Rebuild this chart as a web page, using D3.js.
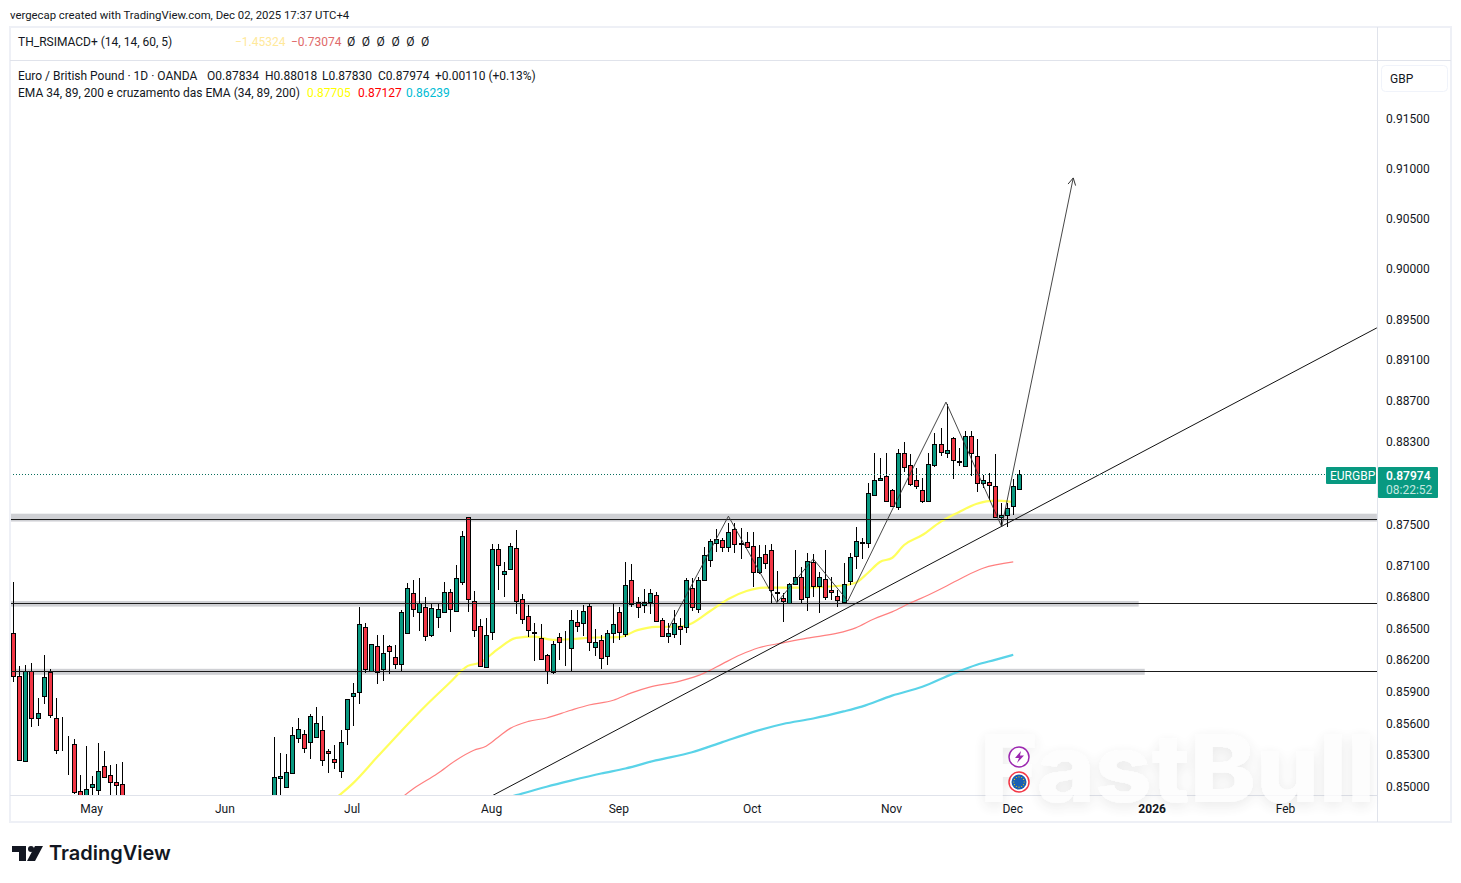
<!DOCTYPE html>
<html><head><meta charset="utf-8">
<script src="https://cdn.jsdelivr.net/npm/d3@7"></script>
<style>
html,body{margin:0;padding:0;background:#fff}
svg{display:block}
text{font-family:Roboto,sans-serif;font-size:12px;fill:#131722}
</style></head><body>
<svg id="c" width="1461" height="883"></svg>
<script>
const barIndex=[...d3.range(0,19),...d3.range(43,167)];
const opens=[0.86445,0.86033,0.85237,0.86081,0.85637,0.85852,0.86074,0.85637,0.85389,0.85351,0.85399,0.84952,0.84800,0.84987,0.84962,0.85190,0.85104,0.85038,0.85019,
0.84800,0.85072,0.84990,0.85120,0.85453,0.85485,0.85409,0.85462,0.85523,0.85332,0.85256,0.85142,0.85532,0.85846,0.85884,0.86502,0.86084,0.86321,0.86100,0.86321,0.86217,0.86150,0.86445,0.86826,0.86645,0.86692,0.86426,0.86597,0.86645,0.86836,0.86654,0.86932,0.87558,0.86749,0.86512,0.86122,0.86455,0.87248,0.87015,0.87056,0.87258,0.86768,0.86607,0.86460,0.86398,0.86236,0.86071,0.86410,0.86315,0.86302,0.86550,0.86540,0.86702,0.86312,0.86379,0.86226,0.86445,0.86645,0.86436,0.86951,0.86740,0.86711,0.86740,0.86807,0.86569,0.86417,0.86436,0.86512,0.86502,0.86874,0.86673,0.86951,0.87143,0.87306,0.87335,0.87268,0.87440,0.87309,0.87316,0.87277,0.87028,0.87200,0.87239,0.86835,0.86778,0.86737,0.86912,0.86980,0.86787,0.87130,0.86893,0.86960,0.86855,0.86804,0.86740,0.86941,0.87181,0.87315,0.87312,0.87773,0.87919,0.87958,0.87822,0.87656,0.88183,0.88066,0.87919,0.87822,0.87715,0.88066,0.88270,0.88183,0.88329,0.88100,0.88056,0.88348,0.88153,0.87890,0.87900,0.87861,0.87558,0.87578,0.87669,0.87834];
const highs=[0.86935,0.86128,0.86144,0.86160,0.85827,0.86239,0.86106,0.85827,0.85649,0.85469,0.85440,0.85107,0.85374,0.85098,0.85402,0.85326,0.85193,0.85209,0.85221,
0.85459,0.85307,0.85301,0.85551,0.85640,0.85526,0.85675,0.85745,0.85659,0.85351,0.85383,0.85526,0.85817,0.85973,0.86696,0.86543,0.86344,0.86426,0.86426,0.86334,0.86334,0.86667,0.86922,0.86954,0.86973,0.86787,0.86730,0.86730,0.86935,0.86864,0.87098,0.87424,0.87562,0.86848,0.86581,0.86591,0.87300,0.87300,0.87127,0.87309,0.87434,0.86820,0.86715,0.86543,0.86534,0.86249,0.86366,0.86445,0.86470,0.86667,0.86667,0.86715,0.86721,0.86486,0.86429,0.86477,0.86730,0.86692,0.87127,0.87104,0.86794,0.86864,0.86864,0.86836,0.86588,0.86540,0.86667,0.86588,0.86970,0.86970,0.86980,0.87274,0.87344,0.87444,0.87354,0.87498,0.87498,0.87450,0.87418,0.87412,0.87290,0.87290,0.87296,0.87040,0.86832,0.86928,0.87242,0.87082,0.87210,0.87204,0.87034,0.87242,0.86986,0.86858,0.87114,0.87210,0.87460,0.87354,0.87890,0.88176,0.88134,0.88176,0.87832,0.88215,0.88290,0.88166,0.88030,0.87939,0.88183,0.88371,0.88426,0.88654,0.88339,0.88231,0.88394,0.88394,0.88312,0.87971,0.87988,0.88173,0.87692,0.87695,0.87929,0.88018];
const lows=[0.85985,0.85234,0.85225,0.85557,0.85567,0.85773,0.85637,0.85301,0.85329,0.85101,0.84923,0.84780,0.84750,0.84800,0.84908,0.85082,0.84850,0.84850,0.84800,
0.84750,0.84917,0.84987,0.85114,0.85405,0.85310,0.85253,0.85453,0.85187,0.85120,0.85158,0.85072,0.85383,0.85564,0.85776,0.86062,0.86084,0.85966,0.85992,0.86052,0.86100,0.86084,0.86445,0.86600,0.86467,0.86375,0.86413,0.86496,0.86635,0.86458,0.86654,0.86909,0.86651,0.86413,0.86122,0.86109,0.86382,0.86858,0.86794,0.87056,0.86629,0.86531,0.86413,0.86176,0.86185,0.85966,0.86052,0.86185,0.86128,0.86081,0.86461,0.86420,0.86271,0.86230,0.86103,0.86144,0.86356,0.86382,0.86413,0.86699,0.86591,0.86635,0.86626,0.86550,0.86407,0.86350,0.86398,0.86328,0.86451,0.86657,0.86635,0.86948,0.87082,0.87220,0.87220,0.87220,0.87210,0.87152,0.87258,0.86890,0.87008,0.87056,0.86730,0.86740,0.86556,0.86730,0.86912,0.86730,0.86661,0.86794,0.86642,0.86762,0.86762,0.86699,0.86737,0.86906,0.87056,0.87152,0.87258,0.87760,0.87916,0.87702,0.87656,0.87630,0.87994,0.87864,0.87832,0.87692,0.87711,0.88043,0.88150,0.88127,0.87929,0.88056,0.88052,0.87955,0.87799,0.87841,0.87728,0.87549,0.87460,0.87466,0.87578,0.87830];
const closes=[0.86039,0.85247,0.86081,0.85637,0.85684,0.86027,0.85665,0.85342,0.85386,0.85348,0.84943,0.84828,0.84971,0.85019,0.85142,0.85085,0.85038,0.85006,0.84850,
0.85085,0.85095,0.85133,0.85475,0.85532,0.85361,0.85656,0.85589,0.85247,0.85313,0.85228,0.85409,0.85817,0.85874,0.86531,0.86100,0.86340,0.86074,0.86255,0.86274,0.86150,0.86645,0.86874,0.86673,0.86730,0.86417,0.86683,0.86673,0.86836,0.86673,0.86970,0.87373,0.86768,0.86474,0.86131,0.86426,0.87248,0.87095,0.87040,0.87277,0.86749,0.86578,0.86474,0.86450,0.86198,0.86084,0.86340,0.86360,0.86309,0.86569,0.86518,0.86654,0.86360,0.86360,0.86207,0.86445,0.86531,0.86455,0.86903,0.86721,0.86692,0.86740,0.86826,0.86559,0.86417,0.86445,0.86540,0.86483,0.86951,0.86692,0.86951,0.87191,0.87325,0.87344,0.87268,0.87412,0.87296,0.87303,0.87268,0.87028,0.87172,0.87114,0.86855,0.86825,0.86749,0.86912,0.86986,0.86768,0.87140,0.86896,0.86980,0.86787,0.86836,0.86759,0.86912,0.87172,0.87325,0.87310,0.87793,0.87919,0.87939,0.87715,0.87666,0.88183,0.88046,0.87880,0.87861,0.87715,0.88075,0.88270,0.88192,0.88212,0.88114,0.88095,0.88348,0.88183,0.87890,0.87919,0.87870,0.87558,0.87578,0.87646,0.87861,0.87974];

const ema34Index=[52,56,60,64,68,72,75,77,80,83,86,89,92,96,100,103,106,110,112,115,118,121,124,130,136,139,141,143,145,147,150,153,156,159,162,165];
const ema34Values=[0.84832,0.85022,0.85269,0.85516,0.85754,0.85973,0.86134,0.86163,0.86296,0.86401,0.86413,0.86382,0.86388,0.86404,0.86407,0.86474,0.86505,0.86508,0.86540,0.86657,0.86772,0.86848,0.86880,0.86880,0.86896,0.86928,0.87021,0.87127,0.87165,0.87290,0.87386,0.87513,0.87606,0.87688,0.87718,0.87705];
const ema89Index=[62,66,70,73,76,78,80,82,85,88,92,95,99,102,105,110,114,117,120,123,127,131,136,139,142,145,148,151,154,157,160,165];
const ema89Values=[0.84794,0.84974,0.85117,0.85240,0.85336,0.85374,0.85459,0.85542,0.85608,0.85640,0.85713,0.85763,0.85808,0.85878,0.85932,0.85989,0.86065,0.86153,0.86239,0.86306,0.86353,0.86398,0.86445,0.86496,0.86581,0.86648,0.86733,0.86810,0.86896,0.86988,0.87066,0.87127];
const ema200Index=[78,83,88,92,97,101,106,112,117,122,127,132,137,140,145,150,155,159,162,165];
const ema200Values=[0.84841,0.84914,0.84993,0.85050,0.85117,0.85164,0.85240,0.85317,0.85412,0.85507,0.85583,0.85635,0.85702,0.85748,0.85852,0.85935,0.86058,0.86144,0.86191,0.86239];

const trendIndex=[79,225];
const trendPrices=[0.84908,0.89406];
const patternIndex=[108,118,126,132,137.7,145.2,153.9,163.1,174.9];
const patternPrices=[0.86477,0.87568,0.86737,0.87156,0.86753,0.87650,0.88677,0.87466,0.90897];
const levelPrices=[0.87536,0.86737,0.86084];
const bandTop=[0.87592,0.86753,0.86106];
const bandBottom=[0.87516,0.86699,0.86049];
const bandEndIndex=[225,185.7,186.7];

const priceTicks=[0.915,0.91,0.905,0.9,0.895,0.891,0.887,0.883,0.875,0.871,0.868,0.865,0.862,0.859,0.856,0.853,0.85];
const timeTickIndex=[13,35,56,79,100,122,145,165,188,210];
const timeTickLabels=["May","Jun","Jul","Aug","Sep","Oct","Nov","Dec","2026","Feb"];
const lastPrice=0.87974;

const svg=d3.select("#c");
const x=d3.scaleLinear().domain([0,166]).range([13.3,1019.3]);
const y=d3.scaleLog().domain([0.85,0.915]).range([786,118]);
const defs=svg.append("defs");
defs.append("clipPath").attr("id","pane").append("rect").attr("x",11).attr("y",61).attr("width",1366).attr("height",734);
const f=defs.append("filter").attr("id","wm").attr("x","-10%").attr("y","-30%").attr("width","120%").attr("height","160%");
f.append("feDropShadow").attr("dx",0).attr("dy",4).attr("stdDeviation",7).attr("flood-color","#000").attr("flood-opacity",.11);

const border="#eef0f6",sep="#e0e3eb";
svg.append("rect").attr("x",10).attr("y",27).attr("width",1441).attr("height",795).attr("fill","none").attr("stroke",border).attr("stroke-width",2);
svg.append("line").attr("x1",10).attr("x2",1451).attr("y1",60.5).attr("y2",60.5).attr("stroke",sep);
svg.append("line").attr("x1",1377.5).attr("x2",1377.5).attr("y1",27).attr("y2",822).attr("stroke",sep);
svg.append("line").attr("x1",10).attr("x2",1377).attr("y1",795.5).attr("y2",795.5).attr("stroke",sep);

const pane=svg.append("g").attr("clip-path","url(#pane)");
const band=pane.append("g");
levelPrices.forEach((p,i)=>{
  band.append("rect").attr("x",10).attr("width",x(bandEndIndex[i])-10)
    .attr("y",y(bandTop[i])).attr("height",y(bandBottom[i])-y(bandTop[i])).attr("fill","#cfd0d4");
});
const line=(xs,vs)=>d3.line().curve(d3.curveMonotoneX)(xs.map((d,i)=>[x(d),y(vs[i])]));
pane.append("path").attr("d",line(ema34Index,ema34Values)).attr("fill","none").attr("stroke","#ffff5c").attr("stroke-width",2.2);
pane.append("path").attr("d",line(ema89Index,ema89Values)).attr("fill","none").attr("stroke","#ff8080").attr("stroke-width",1.2);
pane.append("path").attr("d",line(ema200Index,ema200Values)).attr("fill","none").attr("stroke","#5ad3e8").attr("stroke-width",2.2);

const bars=barIndex.map((b,i)=>({b,o:opens[i],h:highs[i],l:lows[i],c:closes[i]}));
const cg=pane.append("g").attr("shape-rendering","crispEdges");
cg.selectAll("line").data(bars).join("line")
  .attr("x1",d=>Math.round(x(d.b))+.5).attr("x2",d=>Math.round(x(d.b))+.5)
  .attr("y1",d=>y(d.h)).attr("y2",d=>y(d.l)).attr("stroke","#000");
cg.selectAll("rect").data(bars).join("rect")
  .attr("x",d=>Math.round(x(d.b))-1.5).attr("width",4)
  .attr("y",d=>Math.round(y(Math.max(d.o,d.c)))+.5)
  .attr("height",d=>Math.max(0,Math.round(y(Math.min(d.o,d.c)))-Math.round(y(Math.max(d.o,d.c)))))
  .attr("fill",d=>d.c>=d.o?"#089981":"#f23645").attr("stroke","#000");

levelPrices.forEach(p=>{
  pane.append("line").attr("x1",10).attr("x2",1377).attr("y1",Math.round(y(p))+.5).attr("y2",Math.round(y(p))+.5).attr("stroke","#1a1a1a");
});
pane.append("path").attr("d",d3.line()(trendIndex.map((d,i)=>[x(d),y(trendPrices[i])]))).attr("fill","none").attr("stroke","#111").attr("stroke-width",1);
const patPts=patternIndex.map((d,i)=>[x(d),y(patternPrices[i])]);
pane.append("path").attr("d",d3.line()(patPts)).attr("fill","none").attr("stroke","#333").attr("stroke-width",1).attr("opacity",.9);
const tip=patPts[patPts.length-1],prev=patPts[patPts.length-2],ang=Math.atan2(tip[1]-prev[1],tip[0]-prev[0]);
pane.append("path").attr("d",d3.line()([[tip[0]-8*Math.cos(ang-.5),tip[1]-8*Math.sin(ang-.5)],tip,[tip[0]-8*Math.cos(ang+.5),tip[1]-8*Math.sin(ang+.5)]])).attr("fill","none").attr("stroke","#333");

pane.append("line").attr("x1",10).attr("x2",1326).attr("y1",Math.round(y(lastPrice))+.5).attr("y2",Math.round(y(lastPrice))+.5)
  .attr("stroke","#0a6f5e").attr("stroke-dasharray","1 2");

// axes
const py=svg.append("g").attr("transform","translate(1377,0.6)").call(d3.axisRight(y).tickValues(priceTicks).tickFormat(d3.format(".5f")).tickSize(0).tickPadding(9));
py.select(".domain").remove();
py.selectAll("text").attr("dy","0.35em").style("font-size","12px").style("font-family","Roboto,sans-serif").attr("fill","#131722");
const px=svg.append("g").attr("transform","translate(-1,795.5)").call(d3.axisBottom(x).tickValues(timeTickIndex).tickFormat((d,i)=>timeTickLabels[i]).tickSize(0).tickPadding(9));
px.select(".domain").remove();
px.selectAll("text").style("font-size","12px").style("font-family","Roboto,sans-serif").attr("fill","#131722").style("font-weight",d=>d===188?"700":"400");

// header
const T=(s,xx,yy,o={})=>svg.append("text").attr("x",xx).attr("y",yy).text(s).style("fill",o.fill||"#131722").style("font-weight",o.w||400);
T("vergecap created with TradingView.com, Dec 02, 2025 17:37 UTC+4",10,19).style("font-size","11.35px");
T("TH_RSIMACD+ (14, 14, 60, 5)",18,46);
T("−1.45324",235,46,{fill:"#ffe99a"});
T("−0.73074",291,46,{fill:"#e06a6a"});
["Ø","Ø","Ø","Ø","Ø","Ø"].forEach((s,i)=>T(s,347+i*14.8,46));
T("Euro / British Pound · 1D · OANDA",18,80);
T("O0.87834",207,80);T("H0.88018",265,80);
T("L0.87830",322,80);T("C0.87974",378,80);T("+0.00110 (+0.13%)",435,80);
T("EMA 34, 89, 200 e cruzamento das EMA (34, 89, 200)",18,97);
T("0.87705",307,97,{fill:"#ffff00"});T("0.87127",358,97,{fill:"#ff0000"});T("0.86239",406,97,{fill:"#00bcd4"});

// currency box and price labels
svg.append("rect").attr("x",1381.5).attr("y",65.5).attr("width",66).attr("height",26).attr("rx",4).attr("fill","#fff").attr("stroke","#f0f3fa");
T("GBP",1390,82.5);
svg.append("rect").attr("x",1326).attr("y",467).attr("width",50).attr("height",17).attr("rx",1).attr("fill","#089981");
T("EURGBP",1330,480,{fill:"#fff"});
svg.append("rect").attr("x",1378).attr("y",467).attr("width",60).attr("height",31).attr("rx",1).attr("fill","#089981");
T("0.87974",1386,480,{fill:"#fff",w:600});
T("08:22:52",1386,494,{fill:"#c4e8e0"});

// watermark
svg.append("text").attr("x",980).attr("y",802).attr("textLength",395).attr("lengthAdjust","spacingAndGlyphs")
  .text("FastBull").style("font-family","Inter,sans-serif").style("font-size","94px").style("font-weight",800).style("fill","#fdfdfd").attr("filter","url(#wm)").attr("opacity",.8);

// event icons
const ic=svg.append("g");
ic.append("circle").attr("cx",1019).attr("cy",757).attr("r",10).attr("fill","#fff").attr("stroke","#9c27b0").attr("stroke-width",1.5);
ic.append("path").attr("d","M1021,751 L1015,758 L1019,758 L1017,763 L1024,755.5 L1020,755.5 Z").attr("fill","#9c27b0");
ic.append("circle").attr("cx",1019).attr("cy",782).attr("r",10).attr("fill","#fff").attr("stroke","#f23645").attr("stroke-width",1.5);
ic.append("circle").attr("cx",1019).attr("cy",782).attr("r",7.5).attr("fill","#1a5fb4");
d3.range(12).forEach(i=>ic.append("circle").attr("cx",1019+5.2*Math.cos(i*Math.PI/6)).attr("cy",782+5.2*Math.sin(i*Math.PI/6)).attr("r",.6).attr("fill","#f0c800"));

// logo
const lg=svg.append("g").attr("fill","#131722");
lg.append("path").attr("d","M12,846 H26 V861 H19 V852 H12 Z");
lg.append("circle").attr("cx",31).attr("cy",849).attr("r",3);
lg.append("path").attr("d","M35,846 H43 L35,861 H27 Z");
svg.append("text").attr("x",49).attr("y",860).text("TradingView").style("font-family","Inter,sans-serif").style("font-size","20px").style("font-weight",600);
</script>
</body></html>
